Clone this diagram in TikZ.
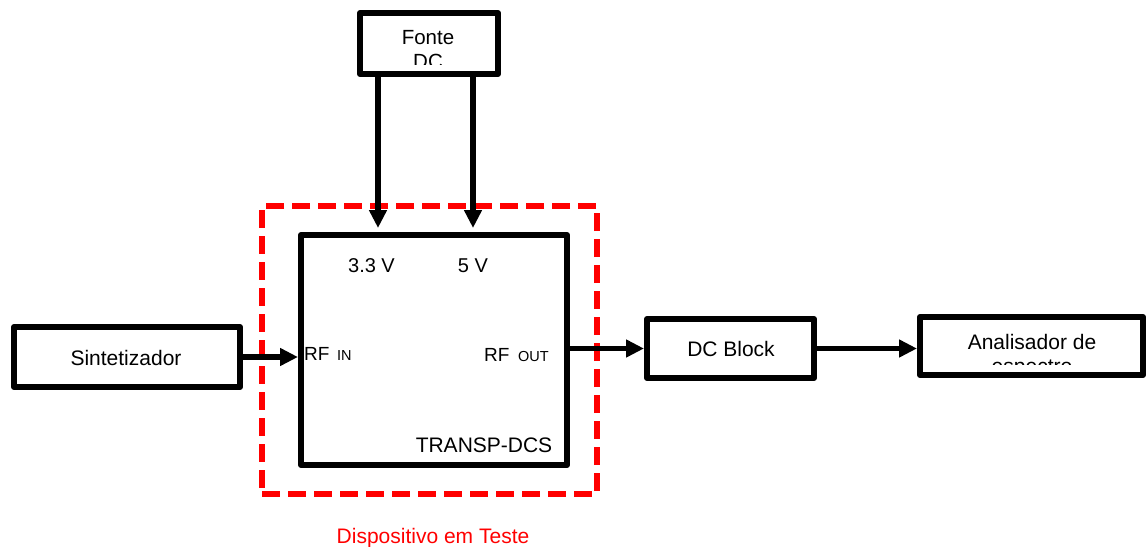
\documentclass[tikz,border=0pt]{standalone}
\usepackage{fontspec}
\setmainfont{Liberation Sans}
\usetikzlibrary{arrows.meta}
\begin{document}
\begin{tikzpicture}[x=1pt,y=-1pt,
  blk/.style={draw, line width=6pt, line join=round, inner sep=0pt, fill=white},
  lbl/.style={inner sep=0pt, anchor=base, font=\fontsize{21}{24}\selectfont},
  small/.style={inner sep=0pt, anchor=base west, font=\fontsize{14.5}{16}\selectfont},
  rf/.style={inner sep=0pt, anchor=base west, font=\fontsize{19}{22}\selectfont},
  arr/.style={line width=5.5pt, -{Triangle[length=18pt,width=17pt]}},
  dut/.style={draw=red, line width=6pt, dash pattern=on 18pt off 8pt, inner sep=0pt}
]
\useasboundingbox (0,0) rectangle (1148,546);

% boxes
\node[dut, minimum width=335pt, minimum height=288pt] (dutbox) at (429.5,350) {};
\node[blk, minimum width=266pt, minimum height=230pt] (transp) at (434,350) {};
\node[blk, minimum width=138pt, minimum height=61pt] (fonte) at (429,43.5) {};
\node[blk, minimum width=226pt, minimum height=60pt] (sint) at (127,357) {};
\node[blk, minimum width=167pt, minimum height=59pt] (dcb) at (730.5,348.5) {};
\node[blk, minimum width=223pt, minimum height=58pt] (anal) at (1031.5,346) {};

% texts
\node[lbl] (sinttxt) at (126,365) {Sintetizador};
\node[lbl] (dcbtxt) at (731,356.5) {DC Block};
\node[lbl, font=\fontsize{20}{24}\selectfont] (v33) at (371.5,272) {3.3 V};
\node[lbl, font=\fontsize{20}{24}\selectfont] (v5) at (473,272) {5 V};
\node[lbl] (transptxt) at (484,452) {TRANSP-DCS};
\node[lbl, text=red] (duttxt) at (433,543) {Dispositivo em Teste};
\node[rf] (rfin) at (304,360) {RF};
\node[small] (rfinsub) at (337,360) {IN};
\node[rf] (rfout) at (484,361) {RF};
\node[small] (rfoutsub) at (518,361) {OUT};

\begin{scope}
  \clip (362,16) rectangle (496,64.5);
  \node[lbl, font=\fontsize{20.5}{24}\selectfont] (fontetxt) at (428,44) {Fonte};
  \node[lbl, font=\fontsize{20.5}{24}\selectfont] (dctxt) at (428,68) {DC};
\end{scope}
\begin{scope}
  \clip (922,319) rectangle (1141,364);
  \node[lbl] (analtxt) at (1032,349) {Analisador de};
  \node[lbl] (esptxt) at (1032,373) {espectro};
\end{scope}

% connectors
\draw[arr] (sint.east) -- (sint.east -| transp.west);
\draw[arr] (transp.east |- dcb.west) -- (dcb.west);
\draw[arr] (dcb.east) -- (dcb.east -| anal.west);
\draw[arr, shorten >=4pt] ([xshift=-51pt]fonte.south) -- ([xshift=-51pt]fonte.south |- transp.north);
\draw[arr, shorten >=4pt] ([xshift=44pt]fonte.south) -- ([xshift=44pt]fonte.south |- transp.north);
\end{tikzpicture}
\end{document}
